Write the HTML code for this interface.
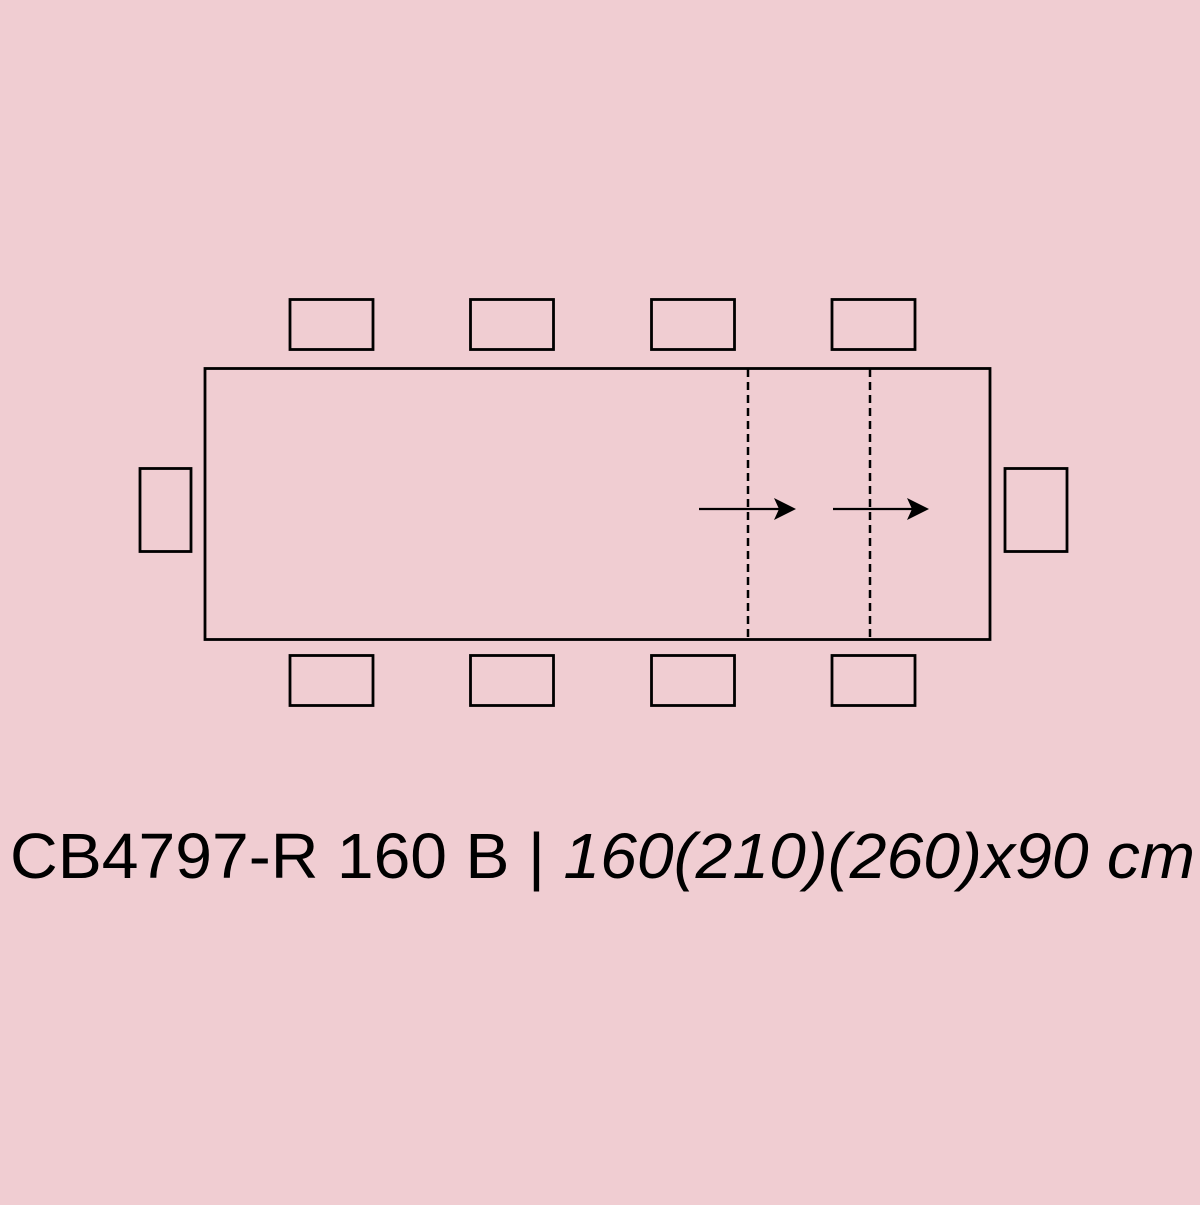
<!DOCTYPE html>
<html><head><style>body{margin:0;background:#f0cdd2}</style></head><body>
<svg width="1200" height="1200" viewBox="0 0 1200 1200" xmlns="http://www.w3.org/2000/svg">
<rect width="1200" height="1200" fill="#f0cdd2"/>
<g fill="none" stroke="#000" stroke-width="2.8">
<rect x="205" y="368.5" width="785" height="271"/>
<rect x="290" y="299.5" width="83" height="50"/>
<rect x="470.5" y="299.5" width="83" height="50"/>
<rect x="651.5" y="299.5" width="83" height="50"/>
<rect x="832" y="299.5" width="83" height="50"/>
<rect x="290" y="655.5" width="83" height="50"/>
<rect x="470.5" y="655.5" width="83" height="50"/>
<rect x="651.5" y="655.5" width="83" height="50"/>
<rect x="832" y="655.5" width="83" height="50"/>
<rect x="140" y="468.5" width="51" height="83"/>
<rect x="1005" y="468.5" width="62" height="83"/>
<line x1="748" y1="369" x2="748" y2="639" stroke-dasharray="8,5" stroke-width="2.5"/>
<line x1="870" y1="369" x2="870" y2="639" stroke-dasharray="8,5" stroke-width="2.5"/>
<line x1="699" y1="509" x2="780" y2="509" stroke-width="2.2"/>
<line x1="833" y1="509" x2="914" y2="509" stroke-width="2.2"/>
</g>
<polygon points="774,498 796,509 774,520 779,509" fill="#000"/>
<polygon points="907,498 929,509 907,520 912,509" fill="#000"/>
<text x="10" y="878" font-family="Liberation Sans, sans-serif" font-size="64" fill="#000" textLength="1185" lengthAdjust="spacingAndGlyphs">CB4797-R 160 B | <tspan font-style="italic">160(210)(260)x90 cm</tspan></text>
</svg>
</body></html>
